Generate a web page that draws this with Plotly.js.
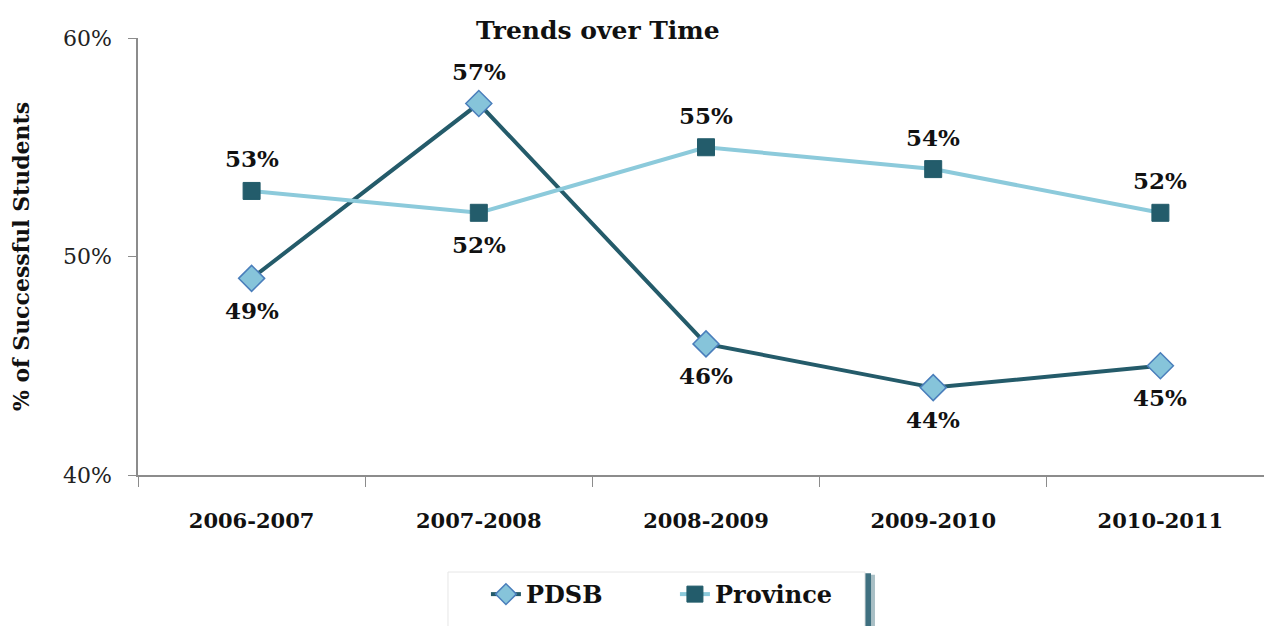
<!DOCTYPE html>
<html>
<head>
<meta charset="utf-8">
<script src="https://cdn.plot.ly/plotly-3.0.1.min.js"></script>
<style>html,body{margin:0;padding:0;background:#fff}#chart{width:1264px;height:626px}</style>
</head>
<body>
<div id="chart"></div>
<script>
const years = ["2006-2007", "2007-2008", "2008-2009", "2009-2010", "2010-2011"];
const pdsb = [49, 57, 46, 44, 45];
const province = [53, 52, 55, 54, 52];
const pdsbLabelSide = [-1, 1, -1, -1, -1];
const provinceLabelSide = [1, -1, 1, 1, 1];
const yTicks = [40, 50, 60];

const FONT = "DejaVu Serif, Liberation Serif, serif";

const traces = [
  {
    x: years, y: pdsb, name: "PDSB", type: "scatter", mode: "lines+markers",
    line: {color: "#245B6A", width: 4},
    marker: {symbol: "diamond", size: 20, color: "#86C4DA", line: {color: "#4A7EBB", width: 1.5}}
  },
  {
    x: years, y: province, name: "Province", type: "scatter", mode: "lines+markers",
    line: {color: "#8CCADB", width: 4},
    marker: {symbol: "square", size: 17, color: "#235C6B", line: {color: "#235C6B", width: 1}}
  }
];

const annotations = [];
years.forEach((c, i) => {
  annotations.push({x: c, y: pdsb[i], text: "<b>" + pdsb[i] + "%</b>", showarrow: false,
    yshift: 32 * pdsbLabelSide[i], font: {family: FONT, size: 23, color: "#111"}});
  annotations.push({x: c, y: province[i], text: "<b>" + province[i] + "%</b>", showarrow: false,
    yshift: 32 * provinceLabelSide[i], font: {family: FONT, size: 23, color: "#111"}});
});

const layout = {
  width: 1264, height: 626,
  margin: {l: 138, r: 0, t: 38, b: 151},
  paper_bgcolor: "#fff", plot_bgcolor: "#fff",
  title: {text: "<b>Trends over Time</b>", font: {family: FONT, size: 25, color: "#111"},
    x: 0.473, xanchor: "center", y: 0.952, yanchor: "middle"},
  showlegend: true,
  legend: {orientation: "h", x: 0.309, xanchor: "left", y: -0.222, yanchor: "top",
    font: {family: FONT, size: 24, color: "#111", weight: "bold"}, bgcolor: "rgba(0,0,0,0)",
    bordercolor: "#fff", borderwidth: 0, tracegroupgap: 0,
    entrywidth: 144, entrywidthmode: "pixels"},
  xaxis: {type: "category", range: [-0.5, 4.456], tickson: "boundaries",
    showline: true, linecolor: "#8c8c8c", linewidth: 2, ticks: "outside", ticklen: 10,
    tickcolor: "#8c8c8c", tickwidth: 1, showgrid: false, zeroline: false,
    tickfont: {family: FONT, size: 21, color: "#111", weight: "bold"}, ticklabelstandoff: 26},
  yaxis: {range: [40, 60], tickvals: yTicks, ticktext: yTicks.map(v => v + "%"),
    showline: true, linecolor: "#8c8c8c", linewidth: 1.5, ticks: "outside", ticklen: 8,
    tickcolor: "#8c8c8c", showgrid: false, zeroline: false, ticklabelstandoff: 12,
    tickfont: {family: FONT, size: 22, color: "#222"},
    title: {text: "<b>% of Successful Students</b>", font: {family: FONT, size: 22, color: "#111"}, standoff: 27}},
  annotations: annotations,
  shapes: [
    {type: "rect", xref: "paper", yref: "paper", x0: 0.283, x1: 0.6545, y0: -0.4, y1: -0.228,
      fillcolor: "#a9bfc5", line: {width: 0}, layer: "below"},
    {type: "rect", xref: "paper", yref: "paper", x0: 0.281, x1: 0.651, y0: -0.4, y1: -0.225,
      fillcolor: "#3f7080", line: {width: 0}, layer: "below"},
    {type: "rect", xref: "paper", yref: "paper", x0: 0.2753, x1: 0.6456, y0: -0.4, y1: -0.222,
      fillcolor: "#fff", line: {color: "#e6e6e6", width: 1}, layer: "below"}
  ]
};

Plotly.newPlot("chart", traces, layout, {displayModeBar: false});
</script>
</body>
</html>
